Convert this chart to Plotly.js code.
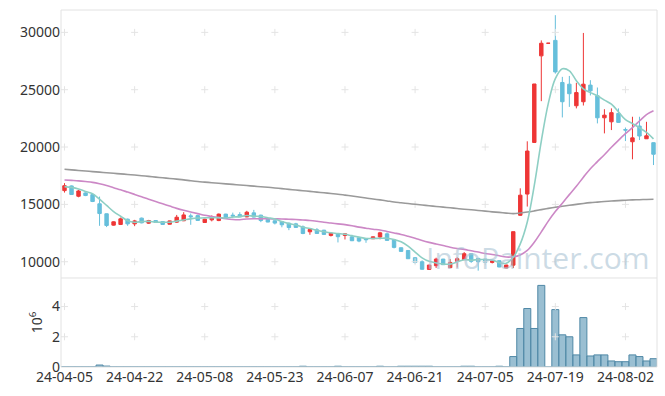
<!DOCTYPE html>
<html>
<head>
<meta charset="utf-8">
<script src="https://cdn.plot.ly/plotly-3.0.1.min.js"></script>
<style>html,body{margin:0;padding:0;background:#fff}#chart{width:665px;height:396px}</style>
</head>
<body>
<div id="chart"></div>
<script>
const dates = ['24-04-05','24-04-08','24-04-09','24-04-11','24-04-12','24-04-15','24-04-16','24-04-17','24-04-18','24-04-19',
'24-04-22','24-04-23','24-04-24','24-04-25','24-04-26','24-04-29','24-04-30','24-05-02','24-05-03','24-05-07',
'24-05-08','24-05-09','24-05-10','24-05-13','24-05-14','24-05-16','24-05-17','24-05-20','24-05-21','24-05-22',
'24-05-23','24-05-24','24-05-27','24-05-28','24-05-29','24-05-30','24-05-31','24-06-03','24-06-04','24-06-05',
'24-06-07','24-06-10','24-06-11','24-06-12','24-06-13','24-06-14','24-06-17','24-06-18','24-06-19','24-06-20',
'24-06-21','24-06-24','24-06-25','24-06-26','24-06-27','24-06-28','24-07-01','24-07-02','24-07-03','24-07-04',
'24-07-05','24-07-08','24-07-09','24-07-10','24-07-11','24-07-12','24-07-15','24-07-16','24-07-17','24-07-18',
'24-07-19','24-07-22','24-07-23','24-07-24','24-07-25','24-07-26','24-07-29','24-07-30','24-07-31','24-08-01',
'24-08-02','24-08-05','24-08-06','24-08-07','24-08-08'];

const opens = [16200,16610,15710,16000,15850,15050,14180,13190,13250,13710,
13300,13800,13360,13590,13500,13270,13450,13570,14000,14020,
13420,13650,13590,14150,14060,14110,13910,14260,14060,13700,
13570,13500,13360,13300,13040,12610,12780,12750,12290,12460,
12290,12170,12090,12030,12000,12150,12430,11910,11220,10980,
10350,10000,9330,9650,10230,9480,10030,10180,10700,10290,
10230,9940,10090,9450,9700,14050,15900,20400,27950,29050,
29300,25630,25480,23600,23950,25400,24470,22550,22200,22930,
21520,20460,21830,20720,20380];

const highs = [16850,16650,16260,16050,15940,15680,14200,13520,13850,13760,
13650,13850,13650,13620,13530,13580,14080,14320,14200,14100,
13750,14040,14200,14180,14280,14320,14440,14520,14100,13740,
13600,13530,13400,13390,13160,12850,12930,12780,12550,12480,
12450,12350,12100,12060,12200,12610,12550,11930,11240,11000,
10380,10120,9730,10350,10250,10230,10400,10840,10750,10320,
10260,10100,10100,9730,12620,16400,20500,25500,29300,29050,
31500,26120,26200,25600,29950,25830,25190,23300,23370,23370,
21700,22640,22640,22200,20400];

const lows = [16030,15850,15620,15720,15200,13130,13020,13150,13200,13130,
13100,13350,13300,13380,13220,13250,13390,13540,13220,13550,
13400,13520,13540,13740,13800,13890,13880,13860,13450,13440,
13250,13000,12750,12960,12400,12350,12430,12350,12200,11680,
11940,11800,11700,11650,11980,11950,11850,11160,10880,10240,
9830,9300,9300,9450,9720,9460,9480,10150,9900,9220,
9930,9850,9520,9400,9450,14000,14810,20350,24000,29050,
26400,22580,23500,23370,23620,24500,22060,21190,21480,22100,
20520,18930,20610,20700,18430];

const closes = [16630,15860,16170,15770,15250,14200,13160,13480,13740,13300,
13560,13390,13590,13430,13250,13560,13880,14080,13920,13600,
13710,13850,14150,13770,13990,13910,14320,13890,13590,13460,
13370,13220,12980,12990,12460,12810,12460,12380,12490,12180,
12430,11830,11800,11910,12170,12520,11860,11250,10900,10260,
9940,9340,9710,10230,9740,9940,10260,10700,10030,10000,
9950,10090,9540,9710,12620,15800,19650,25500,29050,29050,
26550,23950,24650,24750,25480,24900,22550,22780,23000,22150,
21480,20800,20960,20980,19370];

// volume in millions of shares
const volumes = [0.01,0.01,0.01,0.01,0.01,0.13,0.06,0.01,0.01,0.01,
0.01,0.01,0.01,0.01,0.01,0.01,0.01,0.01,0.01,0.01,
0.01,0.01,0.01,0.01,0.01,0.01,0.01,0.01,0.01,0.01,
0.01,0.01,0.01,0.01,0.05,0.01,0.01,0.01,0.01,0.05,
0.01,0.01,0.01,0.01,0.01,0.05,0.01,0.01,0.05,0.05,
0.05,0.05,0.05,0.01,0.01,0.01,0.01,0.05,0.05,0.01,
0.01,0.01,0.05,0.01,0.69,2.55,3.87,2.55,5.40,0,
3.80,2.13,2.00,0.80,3.27,0.73,0.80,0.80,0.40,0.35,
0.35,0.80,0.69,0.40,0.55];

const ma5 = [16550,16480,16350,16120,15936,15450,14910,14372,13966,13576,
13448,13494,13516,13454,13444,13444,13542,13640,13738,13808,
13838,13832,13846,13816,13894,13934,14028,13976,13940,13834,
13726,13506,13324,13204,13004,12892,12740,12620,12520,12464,
12388,12262,12146,12030,12028,12046,12052,11942,11740,11358,
10842,10338,10030,9896,9792,9792,9976,10174,10134,10186,
10188,10154,9922,9858,10382,11552,13464,16656,20524,23810,
25960,26820,26650,25790,25076,24746,24466,24092,23742,23076,
22392,22042,21678,21274,20718];

const ma20 = [17130,17090,17050,16990,16920,16800,16640,16450,16270,16070,
15870,15660,15450,15250,15050,14850,14650,14480,14330,14191,
14045,13945,13844,13744,13681,13666,13724,13745,13737,13745,
13736,13727,13697,13675,13635,13598,13527,13442,13370,13299,
13235,13134,13017,12924,12833,12763,12640,12508,12374,12214,
12042,11848,11685,11547,11411,11267,11157,11073,10950,10841,
10717,10630,10517,10407,10430,10594,10983,11696,12603,13543,
14373,15104,15851,16577,17364,18112,18726,19330,19979,20586,
21163,21698,22269,22833,23170];

const ma120 = [18060,18010,17960,17910,17860,17810,17760,17710,17660,17610,
17560,17500,17440,17380,17320,17260,17200,17140,17060,16990,
16940,16890,16840,16790,16740,16690,16640,16590,16540,16490,
16430,16370,16310,16250,16190,16130,16070,16010,15950,15890,
15810,15730,15640,15560,15470,15390,15300,15210,15140,15070,
15010,14950,14880,14820,14760,14700,14640,14580,14530,14470,
14410,14350,14300,14240,14190,14250,14330,14430,14540,14650,
14750,14840,14920,15000,15080,15150,15200,15250,15290,15330,
15360,15390,15410,15430,15450];

const tickLabels = ['24-04-05','24-04-22','24-05-08','24-05-23','24-06-07','24-06-21','24-07-05','24-07-19','24-08-02'];
const priceTicks = [10000,15000,20000,25000,30000];
const volTicks = [0,2,4];

const RED = '#ee3636', BLUE = '#66bfdb';

// faint grid crosses at tick intersections
const gx = [], gy = [], gx2 = [], gy2 = [];
tickLabels.forEach(t => {
  priceTicks.forEach(p => { gx.push(t); gy.push(p); });
  volTicks.slice(1).forEach(v => { gx2.push(t); gy2.push(v); });
});

const traces = [
  {type:'scatter', mode:'markers', x:gx, y:gy, xaxis:'x', yaxis:'y', hoverinfo:'skip',
   marker:{symbol:'cross-thin', size:5, line:{color:'#e4e4e4', width:1}}},
  {type:'scatter', mode:'markers', x:gx2, y:gy2, xaxis:'x', yaxis:'y2', hoverinfo:'skip',
   marker:{symbol:'cross-thin', size:5, line:{color:'#e4e4e4', width:1}}},
  {type:'candlestick', x:dates, open:opens, high:highs, low:lows, close:closes, xaxis:'x', yaxis:'y',
   increasing:{line:{color:RED, width:1}, fillcolor:RED},
   decreasing:{line:{color:BLUE, width:1}, fillcolor:BLUE},
   whiskerwidth:0, hoverinfo:'skip'},
  {type:'bar', x:dates, y:volumes, xaxis:'x', yaxis:'y2', hoverinfo:'skip',
   marker:{color:'rgba(120,170,195,0.75)', line:{color:'#4f88a6', width:1}}},
  {type:'scatter', mode:'lines', x:dates, y:ma120, xaxis:'x', yaxis:'y', hoverinfo:'skip',
   line:{color:'#9a9a9a', width:1.6, shape:'spline'}},
  {type:'scatter', mode:'lines', x:dates, y:ma20, xaxis:'x', yaxis:'y', hoverinfo:'skip',
   line:{color:'#cc88c6', width:1.6, shape:'spline'}},
  {type:'scatter', mode:'lines', x:dates, y:ma5, xaxis:'x', yaxis:'y', hoverinfo:'skip',
   line:{color:'#8ecfc4', width:1.6, shape:'spline'}}
];

const layout = {
  width:665, height:396,
  margin:{l:61, r:8, t:10, b:29, pad:0},
  paper_bgcolor:'#ffffff', plot_bgcolor:'#ffffff',
  showlegend:false,
  bargap:0,
  font:{family:'"Noto Sans", "Open Sans", sans-serif', size:14, color:'#333333'},
  xaxis:{type:'category', categoryorder:'array', categoryarray:dates, range:[-0.5, 84.5], anchor:'y2',
    tickvals:tickLabels, ticktext:tickLabels,
    showgrid:false, zeroline:false, showline:false, ticks:'', rangeslider:{visible:false},
    tickfont:{size:14, color:'#333333'}, tickangle:0, fixedrange:true},
  yaxis:{domain:[0.2493, 1], range:[8580, 31950], tickvals:priceTicks, ticktext:priceTicks.map(String),
    showgrid:false, zeroline:false, showline:false, ticks:'', tickfont:{size:14, color:'#333333'}},
  yaxis2:{domain:[0, 0.2493], range:[0, 5.89], tickvals:volTicks, ticktext:volTicks.map(String),
    showgrid:false, zeroline:false, showline:false, ticks:'', tickfont:{size:14, color:'#333333'},
    title:{text:'10<sup>6</sup>', font:{size:14, color:'#333333'}, standoff:6}},
  shapes:[
    {type:'rect', xref:'paper', yref:'paper', x0:0, x1:1, y0:0, y1:1, line:{color:'#e2e2e2', width:1}},
    {type:'line', xref:'paper', yref:'paper', x0:0, x1:1, y0:0.2493, y1:0.2493, line:{color:'#e2e2e2', width:1}}
  ],
  annotations:[
    {text:'InfoPainter.com', xref:'paper', yref:'paper', x:0.80, y:0.308, xanchor:'center', yanchor:'middle', showarrow:false,
     font:{family:'"Open Sans", "Noto Sans", sans-serif', size:30, color:'rgba(170,196,212,0.6)'}}
  ]
};

Plotly.newPlot('chart', traces, layout, {staticPlot:true, displayModeBar:false});
</script>
</body>
</html>
